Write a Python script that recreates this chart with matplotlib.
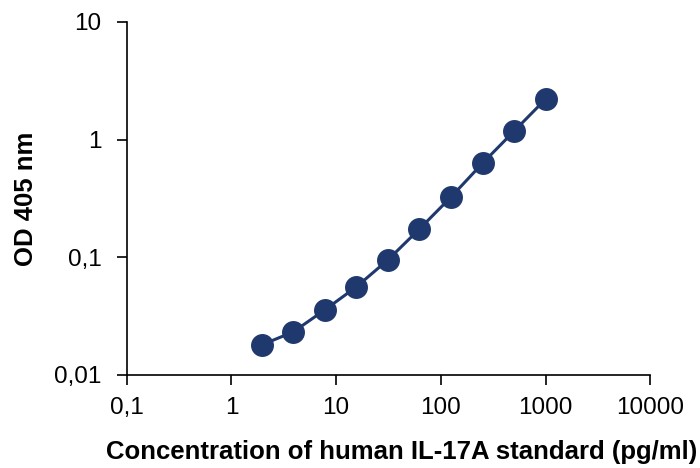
import matplotlib
matplotlib.use("Agg")
import matplotlib.pyplot as plt

plt.rcParams['font.family'] = ['Liberation Sans', 'DejaVu Sans']

# standard curve data
conc = [1.95, 3.9, 7.8, 15.6, 31.25, 62.5, 125, 250, 500, 1000]
od = [0.018, 0.0232, 0.0357, 0.056, 0.095, 0.174, 0.325, 0.63, 1.18, 2.21]

x_ticks = [0.1, 1, 10, 100, 1000, 10000]
x_labels = ["0,1", "1", "10", "100", "1000", "10000"]
y_ticks = [0.01, 0.1, 1, 10]
y_labels = ["0,01", "0,1", "1", "10"]

color = "#1f396e"

fig = plt.figure(figsize=(7, 4.68), dpi=100)
ax = fig.add_axes([0.181, 0.199, 0.748, 0.754])

ax.plot(conc, od, color=color, linewidth=2.2, marker="o", markersize=15.5,
        markerfacecolor=color, markeredgecolor=color)

ax.set_xscale("log")
ax.set_yscale("log")
ax.set_xlim(0.1, 10000)
ax.set_ylim(0.01, 10)

ax.set_xticks(x_ticks)
ax.set_xticklabels(x_labels)
ax.set_yticks(y_ticks)
ax.set_yticklabels(y_labels)
ax.minorticks_off()
ax.tick_params(axis="both", labelsize=17.5, length=7, width=1.2, direction="out")
ax.tick_params(axis="x", pad=9)
ax.tick_params(axis="y", pad=11)

ax.spines["top"].set_visible(False)
ax.spines["right"].set_visible(False)
ax.spines["left"].set_linewidth(1.2)
ax.spines["bottom"].set_linewidth(1.2)

ax.set_xlabel("Concentration of human IL-17A standard (pg/ml)", fontsize=18.5,
              fontweight="bold", labelpad=15)
ax.xaxis.label.set_x(0.526)  # label sits a bit right of centre in the original
ax.set_ylabel("OD 405 nm", fontsize=18.5, fontweight="bold", labelpad=12)

fig.savefig("out.png", dpi=100)
